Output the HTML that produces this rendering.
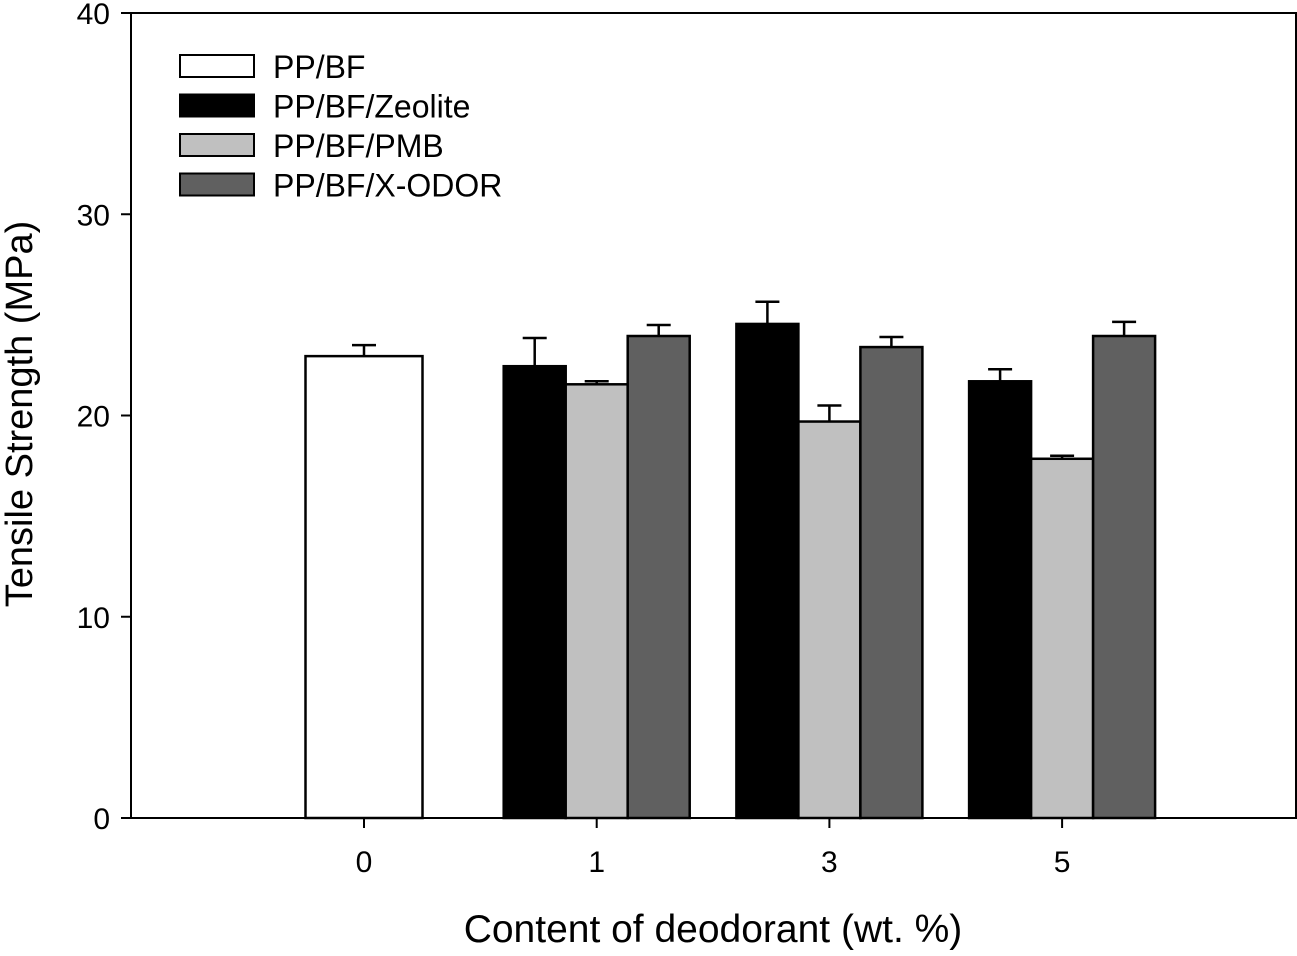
<!DOCTYPE html>
<html><head><meta charset="utf-8"><style>
body{margin:0;background:#fff}
svg text{font-family:"Liberation Sans",Arial,sans-serif}
</style></head><body>
<svg id="chart" width="1297" height="951" xmlns="http://www.w3.org/2000/svg">
<g id="bars"></g>
<g id="axes"></g>
</svg>
<script>
const categories=["0","1","3","5"];
const seriesNames=["PP/BF","PP/BF/Zeolite","PP/BF/PMB","PP/BF/X-ODOR"];
const seriesColors=["#ffffff","#000000","#c0c0c0","#606060"];
const ppbf=[22.95,null,null,null];
const ppbfErr=[0.55,null,null,null];
const zeolite=[null,22.45,24.55,21.7];
const zeoliteErr=[null,1.4,1.1,0.6];
const pmb=[null,21.55,19.7,17.85];
const pmbErr=[null,0.15,0.8,0.15];
const xodor=[null,23.95,23.4,23.95];
const xodorErr=[null,0.55,0.5,0.7];
const yTicks=[0,10,20,30,40];

const NS="http://www.w3.org/2000/svg";
const L=131,R=1296,T=13,B=818;
const y=v=>B-(v/40)*(B-T);
const xc=i=>364+i*232.7;
const bw=62;
function mk(tag,attrs,parent){const e=document.createElementNS(NS,tag);for(const k in attrs)e.setAttribute(k,attrs[k]);parent.appendChild(e);return e;}
const gb=document.getElementById('bars'),ga=document.getElementById('axes');
const series=[[ppbf,ppbfErr],[zeolite,zeoliteErr],[pmb,pmbErr],[xodor,xodorErr]];
series.forEach((s,si)=>{
  s[0].forEach((v,i)=>{
    if(v==null)return;
    let x0,w;
    if(si===0){w=117;x0=xc(i)-w/2;}else{w=bw;x0=xc(i)+(si-2)*bw-bw/2;}
    const r=mk('rect',{x:x0,y:y(v),width:w,height:B-y(v),fill:seriesColors[si],stroke:'#000','stroke-width':2.5},gb);
    
    
    const cx=x0+w/2,e=s[1][i];
    const ln=mk('path',{d:`M${cx},${y(v)} V${y(v+e)} M${cx-12},${y(v+e)} H${cx+12}`,stroke:'#000','stroke-width':2.5,fill:'none'},gb);
    
    
  });
});
const ax=mk('path',{d:`M${L},${T} V${B} H${R} V${T} H${L}`,stroke:'#000','stroke-width':2,fill:'none'},ga);


yTicks.forEach(t=>{
  mk('line',{x1:L-10,x2:L,y1:y(t),y2:y(t),stroke:'#000','stroke-width':2},ga);
  const tx=mk('text',{x:L-21,y:y(t)+11,'text-anchor':'end','font-size':30},ga);
  tx.textContent=t;
  
  
});
categories.forEach((c,i)=>{
  mk('line',{x1:xc(i),x2:xc(i),y1:B,y2:B+10,stroke:'#000','stroke-width':2},ga);
  const tx=mk('text',{x:xc(i),y:B+54,'text-anchor':'middle','font-size':30},ga);
  tx.textContent=c;
  
  
});
const xt=mk('text',{x:713,y:942,'text-anchor':'middle','font-size':39},ga);
xt.textContent='Content of deodorant (wt. %)';


const yt=mk('text',{x:0,y:0,'text-anchor':'middle','font-size':38,transform:'translate(32,414) rotate(-90)'},ga);
yt.textContent='Tensile Strength (MPa)';


seriesNames.forEach((n,i)=>{
  const yy=55+i*39.5;
  const sw=mk('rect',{x:180,y:yy,width:74,height:22,fill:seriesColors[i],stroke:'#000','stroke-width':2},ga);
  
  
  const tx=mk('text',{x:273,y:yy+23,'font-size':32},ga);
  tx.textContent=n;
  
  
});
</script>
</body></html>
